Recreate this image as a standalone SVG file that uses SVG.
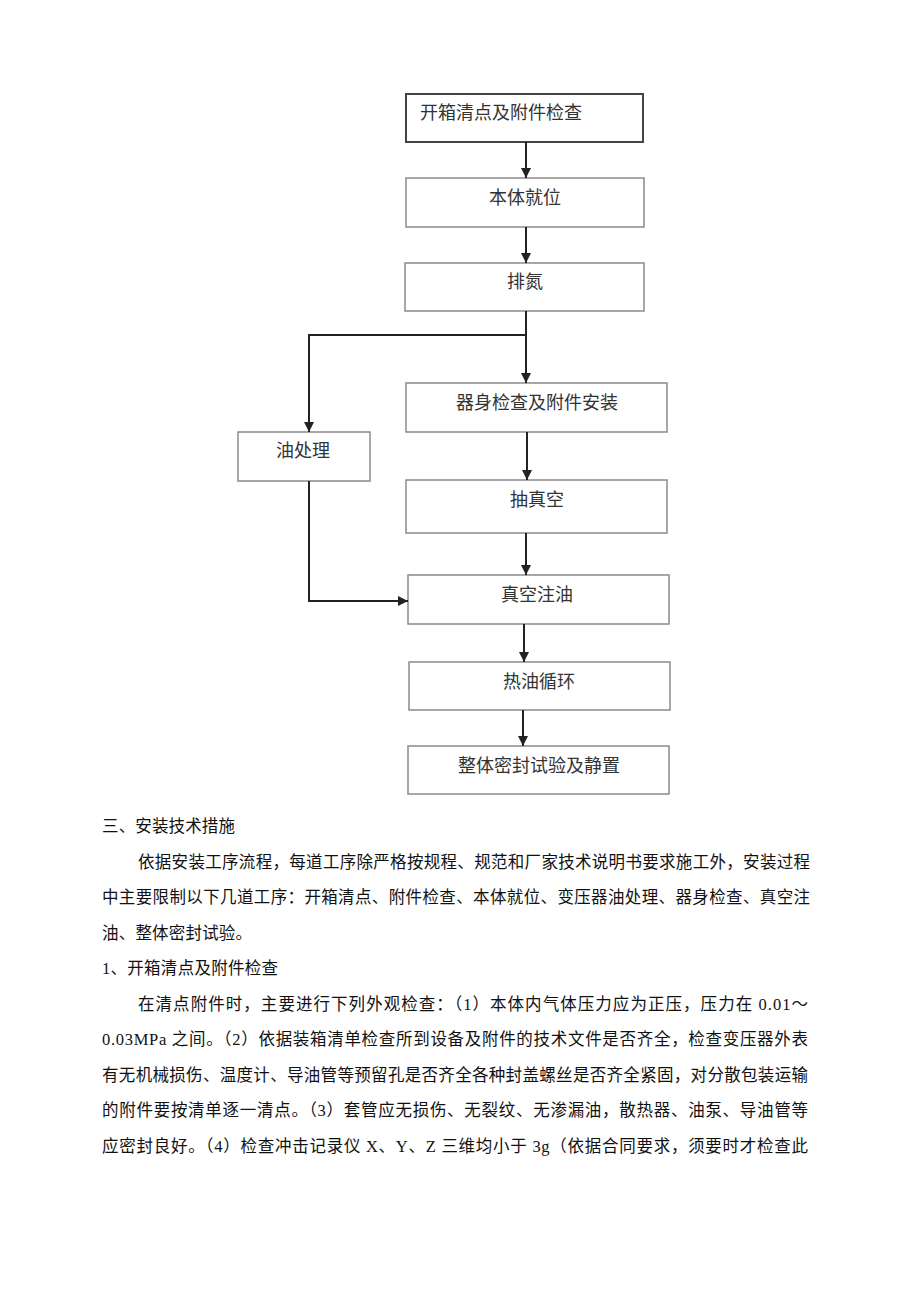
<svg xmlns="http://www.w3.org/2000/svg" width="920" height="1301" viewBox="0 0 920 1301">
<style>
.box{fill:#fff;stroke:#8a8a8a;stroke-width:1.5}
.box1{fill:none;stroke:#444;stroke-width:2}
.bt{font-family:"Liberation Serif","Noto Sans CJK SC",serif;font-size:18px;fill:#333}
.c{text-anchor:middle}
.con{fill:none;stroke:#222;stroke-width:2}
.p{font-family:"Liberation Serif","Noto Sans CJK SC",serif;font-size:16.5px;fill:#111}
</style>
<defs>
<marker id="ah" viewBox="0 0 10 10" refX="10" refY="5" markerWidth="5" markerHeight="5" orient="auto" markerUnits="strokeWidth">
<path d="M0,0 L10,5 L0,10 z" fill="#222"/>
</marker>
</defs>
<rect width="920" height="1301" fill="#fff"/>
<g id="n1"><rect class="box1" x="406" y="94" width="237" height="48"/><text class="bt" x="420" y="119">开箱清点及附件检查</text></g>
<g id="n2"><rect class="box" x="406" y="178" width="238" height="49"/><text class="bt c" x="525" y="204">本体就位</text></g>
<g id="n3"><rect class="box" x="405" y="263" width="239" height="48"/><text class="bt c" x="525" y="288">排氮</text></g>
<g id="n4"><rect class="box" x="406" y="383" width="261" height="49"/><text class="bt c" x="537" y="409">器身检查及附件安装</text></g>
<g id="n5"><rect class="box" x="238" y="432" width="132" height="49"/><text class="bt c" x="303" y="457">油处理</text></g>
<g id="n6"><rect class="box" x="406" y="480" width="261" height="53"/><text class="bt c" x="537" y="506">抽真空</text></g>
<g id="n7"><rect class="box" x="408" y="575" width="261" height="49"/><text class="bt c" x="537" y="601">真空注油</text></g>
<g id="n8"><rect class="box" x="409" y="662" width="261" height="48"/><text class="bt c" x="539" y="688">热油循环</text></g>
<g id="n9"><rect class="box" x="408" y="746" width="261" height="48"/><text class="bt c" x="539" y="772">整体密封试验及静置</text></g>
<g id="connectors">
<path class="con" d="M526,142 V178" marker-end="url(#ah)"/>
<path class="con" d="M526,227 V263" marker-end="url(#ah)"/>
<path class="con" d="M526,311 V383" marker-end="url(#ah)"/>
<path class="con" d="M526,335 H309 V432" marker-end="url(#ah)"/>
<path class="con" d="M527,432 V480" marker-end="url(#ah)"/>
<path class="con" d="M526,533 V575" marker-end="url(#ah)"/>
<path class="con" d="M309,481 V601 H408" marker-end="url(#ah)"/>
<path class="con" d="M524,624 V662" marker-end="url(#ah)"/>
<path class="con" d="M523,710 V746" marker-end="url(#ah)"/>
</g>
<g id="body">
<text class="p" x="102" y="832" textLength="133" lengthAdjust="spacing">三、安装技术措施</text>
<text class="p" x="138" y="867.5" textLength="672" lengthAdjust="spacing">依据安装工序流程，每道工序除严格按规程、规范和厂家技术说明书要求施工外，安装过程</text>
<text class="p" x="102" y="903" textLength="708" lengthAdjust="spacing">中主要限制以下几道工序：开箱清点、附件检查、本体就位、变压器油处理、器身检查、真空注</text>
<text class="p" x="102" y="938.5" textLength="150" lengthAdjust="spacing">油、整体密封试验。</text>
<text class="p" x="102" y="974" textLength="176" lengthAdjust="spacing">1、开箱清点及附件检查</text>
<text class="p" x="138" y="1009.5" textLength="670" lengthAdjust="spacing">在清点附件时，主要进行下列外观检查：（1）本体内气体压力应为正压，压力在 0.01～</text>
<text class="p" x="102" y="1045" textLength="706" lengthAdjust="spacing">0.03MPa 之间。（2）依据装箱清单检查所到设备及附件的技术文件是否齐全，检查变压器外表</text>
<text class="p" x="102" y="1080.5" textLength="706" lengthAdjust="spacing">有无机械损伤、温度计、导油管等预留孔是否齐全各种封盖螺丝是否齐全紧固，对分散包装运输</text>
<text class="p" x="102" y="1116" textLength="706" lengthAdjust="spacing">的附件要按清单逐一清点。（3）套管应无损伤、无裂纹、无渗漏油，散热器、油泵、导油管等</text>
<text class="p" x="102" y="1151.5" textLength="706" lengthAdjust="spacing">应密封良好。（4）检查冲击记录仪 X、Y、Z 三维均小于 3g（依据合同要求，须要时才检查此</text>
</g>
</svg>
